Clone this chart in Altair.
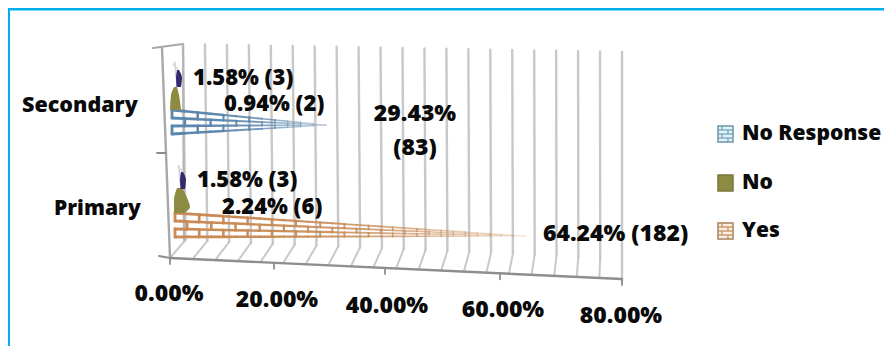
import altair as alt
import pandas as pd

# ---------- chart values ----------
levels = ["Secondary", "Primary"]
series = ["No Response", "No", "Yes"]
yes_values = [29.43, 64.24]
yes_labels = ["29.43%", "(83)", "64.24% (182)"]
no_labels = ["1.58% (3)", "1.58% (3)"]
nr_labels = ["0.94% (2)", "2.24% (6)"]
tick_values = [0, 20, 40, 60, 80]
tick_labels = ["0.00%", "20.00%", "40.00%", "60.00%", "80.00%"]
grid_values = list(range(0, 81, 4))

# ---------- page layout ----------
W, H = 876, 338
FONT = "Open Sans"
TXT = "#0a0a0a"
GRID = "#c2c2c2"
AXIS = "#8e8e8e"
BORDER = "#00aeef"
ORANGE = "#c98a55"
BLUE = "#5b86ad"
OLIVE = "#8d8b42"
PURPLE = "#352a70"

xpct = alt.Scale(domain=[-28.72, 0, 20, 40, 60, 80, 122],
                 range=[0, 162, 266, 377, 492, 614, W])
xpage = alt.Scale(domain=[8, 8 + W], range=[0, W])
ypage = alt.Scale(domain=[8, 8 + H], range=[0, H])


def lerp(a, b, t):
    return a + (b - a) * t


def tick_px(p):
    dom, rng = xpct.domain, xpct.range
    for i in range(len(dom) - 1):
        if dom[i] <= p <= dom[i + 1]:
            return 8 + lerp(rng[i], rng[i + 1], (p - dom[i]) / (dom[i + 1] - dom[i]))
    return 8 + rng[-1]


def axis_y(px):
    return lerp(258, 279, (px - 170) / (622 - 170))


# ---------- segments of the tilted frame, grid and floor ----------
segs = []


def seg(x, y, x2, y2, color, width, opacity=1.0):
    segs.append(dict(x=x, y=y, x2=x2, y2=y2, c=color, w=width, o=opacity))


for g in grid_values:
    t = g / 80
    back_top = lerp(183, 622, t)
    back_bot = back_top + lerp(2.5, 0, t)
    base = lerp(240, 281 if g == 80 else 258, t)
    foot_x = lerp(170, 622, t)
    top_y = lerp(44, 52, t)
    seg(back_top, top_y, back_bot, base, GRID, 2.4, 0.9)
    if g < 80:
        seg(back_bot, base, foot_x, axis_y(foot_x), GRID, 2, 0.9)

seg(153, 48, 183, 44, "#a8a8a8", 2)
seg(162, 48, 170, 258, "#a8a8a8", 2.4)
seg(183, 44, 184, 240, "#b5b5b5", 2.2)
seg(170, 258, 622, 279, AXIS, 2.4)
seg(159, 256, 170, 258, AXIS, 2)
seg(157, 153, 166, 153, AXIS, 2)
for p in tick_values:
    px = [170, 274, 385, 500, 622][tick_values.index(p)]
    seg(px, axis_y(px), px, axis_y(px) + 6, AXIS, 1.8)

# border that the image crops at its right and bottom edges
seg(8.5, 8.5, 8.5, 360, BORDER, 3)
seg(8.5, 9, 900, 9, BORDER, 3)


# ---------- brick wedges: lines, then staggered joints, fading to the tip ----------
def wedge_rows(left, top, bottom, tip_x, tip_y, color, rows=3):
    out = []
    ys = [lerp(top, bottom, i / rows) for i in range(rows + 1)]
    n = int((tip_x - left) / 12)
    for i in range(n):
        t0 = i / n
        t1 = (i + 1) / n
        x0, x1 = lerp(left, tip_x, t0), lerp(left, tip_x, t1)
        fade = 1 - t0 ** 2.5
        w = lerp(2.8, 1.0, t0)
        for r, y in enumerate(ys):
            y0, y1 = lerp(y, tip_y, t0), lerp(y, tip_y, t1)
            out.append(dict(x=x0, y=y0, x2=x1, y2=y1, c=color, w=w, o=fade))
        for r in range(rows):
            if (i + r) % 2 == 0:
                ya = lerp(ys[r], tip_y, t0)
                yb = lerp(ys[r + 1], tip_y, t0)
                out.append(dict(x=x0, y=ya, x2=x0, y2=yb, c=color, w=w, o=fade))
    return out


wedges = [
    (172, 110, 134, yes_values[0], 125, BLUE),
    (175, 213, 237, yes_values[1], 236, ORANGE),
]
for left, top, bottom, v, tip_y, col in wedges:
    segs.extend(wedge_rows(left, top, bottom, tick_px(v), tip_y, col))

# ---------- the small "No" and "No Response" cones ----------
cones = pd.DataFrame(
    [
        dict(k="a", y=87, x0=174, x1=177, f=OLIVE),
        dict(k="a", y=95, x0=171, x1=179, f=OLIVE),
        dict(k="a", y=110, x0=170, x1=181, f=OLIVE),
        dict(k="b", y=70, x0=177, x1=179, f=PURPLE),
        dict(k="b", y=78, x0=176, x1=182, f=PURPLE),
        dict(k="b", y=87, x0=176.5, x1=181, f=PURPLE),
        dict(k="c", y=188, x0=177, x1=182, f=OLIVE),
        dict(k="c", y=200, x0=174, x1=188, f=OLIVE),
        dict(k="c", y=207, x0=174, x1=190, f=OLIVE),
        dict(k="c", y=213, x0=174, x1=184, f=OLIVE),
        dict(k="d", y=172, x0=181, x1=183, f=PURPLE),
        dict(k="d", y=180, x0=180, x1=186, f=PURPLE),
        dict(k="d", y=189, x0=180.5, x1=185, f=PURPLE),
    ]
)
wisps = [(173, 64, 178, 70), (175, 62, 176, 78), (178, 166, 183, 172), (179, 166, 180, 182)]
for a, b, c, d in wisps:
    seg(a, b, c, d, "#d6d6d6", 1.6)

df = pd.DataFrame(segs)

x_p = alt.X("x:Q", scale=xpage, axis=None)
y_p = alt.Y("y:Q", scale=ypage, axis=None)

lines = alt.Chart(df).mark_rule(strokeCap="round").encode(
    x=x_p, y=y_p, x2="x2:Q", y2="y2:Q",
    color=alt.Color("c:N", scale=None),
    size=alt.Size("w:Q", scale=None),
    opacity=alt.Opacity("o:Q", scale=None),
)

cone_layer = alt.Chart(cones).mark_area(orient="horizontal", interpolate="monotone").encode(
    y=alt.Y("y:Q", scale=ypage, axis=None),
    x=alt.X("x0:Q", scale=xpage, axis=None),
    x2="x1:Q",
    color=alt.Color("f:N", scale=None),
    detail="k:N",
)


def text(s, x, y, size=23, align="left"):
    return alt.Chart(pd.DataFrame({"t": [s]})).mark_text(
        text=s, font=FONT, fontWeight=800, fontSize=size, color=TXT,
        align=align, baseline="middle",
    ).encode(x=alt.value(x - 8), y=alt.value(y - 8))


labels = [
    text(levels[0], 22, 106, size=21.5),
    text(levels[1], 54, 209, size=21),
    text(no_labels[0], 193, 78, size=22),
    text(nr_labels[0], 224, 104, size=22),
    text(yes_labels[0], 415, 114, align="center"),
    text(yes_labels[1], 415, 148, align="center"),
    text(no_labels[1], 197, 180, size=22),
    text(nr_labels[1], 222, 207, size=22),
    text(yes_labels[2], 543, 234),
]
for lab, cx, cy in zip(tick_labels, [169, 277, 387, 503, 621], [294, 300, 306, 310, 316]):
    labels.append(text(lab, cx, cy, align="center"))

# ---------- legend ----------
legend_rows = list(zip(series, [134, 183, 231]))
legend_marks = []
sw = []
for name, cy in legend_rows:
    x0, x1, y0, y1 = 718, 733, cy - 8, cy + 8
    if name == "No":
        sw.append(dict(x=x0, x2=x1, y=y0, y2=y1, f=OLIVE, s="#77763c"))
    else:
        sw.append(dict(x=x0, x2=x1, y=y0, y2=y1,
                       f="#e3f2f7" if name == "No Response" else "#fbeee0",
                       s="#6f94a8" if name == "No Response" else "#a9805c"))
    legend_marks.append(text(name, 742, cy, size=21))

sw_df = pd.DataFrame(sw)
swatches = alt.Chart(sw_df).mark_rect(strokeWidth=1.5).encode(
    x=alt.X("x:Q", scale=xpage, axis=None), x2="x2:Q",
    y=alt.Y("y:Q", scale=ypage, axis=None), y2="y2:Q",
    fill=alt.Fill("f:N", scale=None),
    stroke=alt.Stroke("s:N", scale=None),
)
brick = []
for name, cy in legend_rows:
    if name == "No":
        continue
    col = "#6aa0b8" if name == "No Response" else "#c08a5c"
    for dy in (-4, 0, 4):
        brick.append(dict(x=718, x2=733, y=cy + dy, y2=cy + dy, c=col, w=1.2, o=1))
    for k, dy in enumerate((-6, -2, 2, 6)):
        xb = 722 if k % 2 == 0 else 728
        brick.append(dict(x=xb, x2=xb, y=cy + dy - 2, y2=cy + dy + 2, c=col, w=1.2, o=1))
brick_layer = alt.Chart(pd.DataFrame(brick)).mark_rule().encode(
    x=alt.X("x:Q", scale=xpage, axis=None), x2="x2:Q",
    y=alt.Y("y:Q", scale=ypage, axis=None), y2="y2:Q",
    color=alt.Color("c:N", scale=None),
    size=alt.Size("w:Q", scale=None),
)

chart = alt.layer(
    lines, cone_layer, swatches, brick_layer, *labels, *legend_marks
).properties(
    width=W, height=H, padding=0,
    autosize=alt.AutoSizeParams(type="none"),
    background="#ffffff",
).configure_view(stroke=None)

chart.save("out.html", embed_options={"renderer": "svg", "actions": False})
